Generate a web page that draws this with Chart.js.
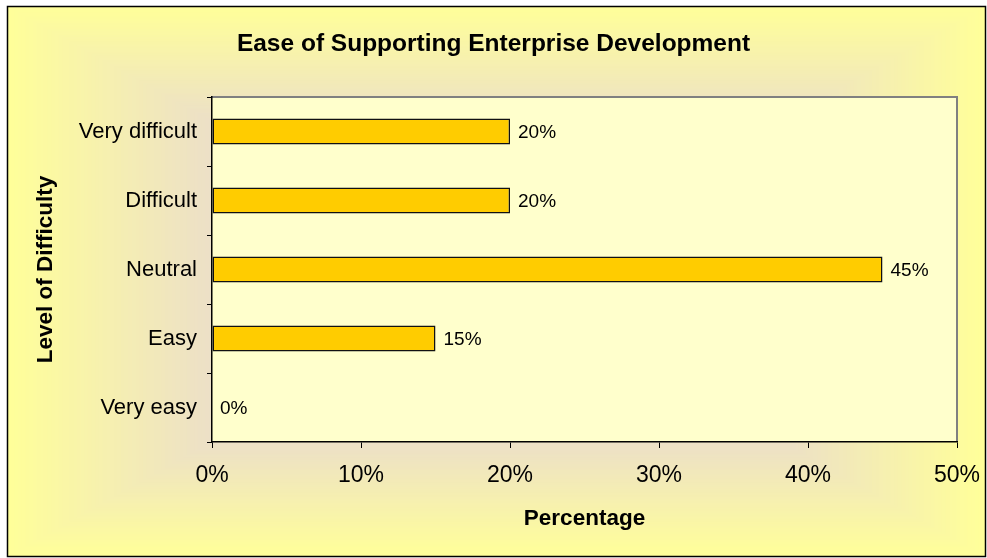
<!DOCTYPE html>
<html>
<head>
<meta charset="utf-8">
<title>Ease of Supporting Enterprise Development</title>
<script src="https://cdn.jsdelivr.net/npm/chart.js@4/dist/chart.umd.min.js"></script>
<style>
  html, body { margin: 0; padding: 0; background: #fff; }
  #wrap { width: 987px; height: 558px; position: relative; }
</style>
</head>
<body>
<div id="wrap"><canvas id="chart"></canvas></div>
<script>
// ---------- data ----------
const levels = ["Very difficult", "Difficult", "Neutral", "Easy", "Very easy"];
const percentages = [20, 20, 45, 15, 0];
const xTicks = [0, 10, 20, 30, 40, 50];

const FONT = "'Liberation Sans', Arial, sans-serif";

// ---------- helpers ----------
function mix(a, b, t) {
  return a.map((v, i) => Math.round(v + (b[i] - v) * t));
}

// rectangular "from centre" fill behind everything, plus the plot panel
const backdrop = {
  id: "backdrop",
  beforeDraw(chart) {
    const { ctx, chartArea: ca } = chart;
    const L = 7, T = 6, R = 986, B = 557;
    const cx = (L + R) / 2, cy = (T + B) / 2;
    const hw = (R - L) / 2, hh = (B - T) / 2;
    const edge = [255, 255, 153], inner = [236, 223, 200];
    ctx.save();
    const steps = 80;
    for (let i = 0; i <= steps; i++) {
      const d = 1 - (i / steps) * 0.6;            // normalized distance 1 -> 0.4
      const t = Math.min(1, (1 - d) / 0.42);
      const c = mix(edge, inner, t);
      ctx.fillStyle = `rgb(${c[0]},${c[1]},${c[2]})`;
      ctx.fillRect(cx - hw * d, cy - hh * d, hw * 2 * d, hh * 2 * d);
    }
    // plot panel
    ctx.fillStyle = "#FFFFCC";
    ctx.fillRect(ca.left, ca.top, ca.right - ca.left, ca.bottom - ca.top);
    ctx.strokeStyle = "#808080";
    ctx.lineWidth = 2;
    ctx.beginPath();
    ctx.moveTo(ca.left, ca.top);
    ctx.lineTo(ca.right, ca.top);
    ctx.lineTo(ca.right, ca.bottom);
    ctx.stroke();
    // outer frame
    ctx.strokeStyle = "#000";
    ctx.lineWidth = 1.5;
    ctx.strokeRect(L + 0.5, T + 0.5, R - L - 1, B - T - 1);
    ctx.restore();
  }
};

// value labels at the end of each bar
const barLabels = {
  id: "barLabels",
  afterDatasetsDraw(chart) {
    const { ctx } = chart;
    const meta = chart.getDatasetMeta(0);
    ctx.save();
    ctx.font = `19px ${FONT}`;
    ctx.fillStyle = "#000";
    ctx.textAlign = "left";
    ctx.textBaseline = "middle";
    meta.data.forEach((bar, i) => {
      const v = chart.data.datasets[0].data[i];
      ctx.fillText(v + "%", bar.x + 8, bar.y + 1);
    });
    ctx.restore();
  }
};

new Chart(document.getElementById("chart"), {
  type: "bar",
  data: {
    labels: levels,
    datasets: [{
      data: percentages,
      backgroundColor: "#FFCC00",
      borderColor: "#111",
      borderWidth: 1.5,
      borderSkipped: false,
      barPercentage: 0.38,
      categoryPercentage: 1
    }]
  },
  options: {
    indexAxis: "y",
    responsive: true,
    maintainAspectRatio: false,
    animation: false,
    layout: { padding: 0 },
    plugins: {
      legend: { display: false },
      tooltip: { enabled: false },
      title: {
        display: true,
        text: "Ease of Supporting Enterprise Development",
        color: "#000",
        font: { family: FONT, size: 24.5, weight: "bold" },
        padding: { top: 30, bottom: 37.6 }
      }
    },
    scales: {
      x: {
        min: 0,
        max: 50,
        afterBuildTicks: (scale) => { scale.ticks = xTicks.map((v) => ({ value: v })); },
        afterFit: (scale) => {
          scale.height = 116;
          scale.paddingRight = 30;
        },
        ticks: {
          color: "#000",
          padding: 14,
          font: { family: FONT, size: 23 },
          callback: (v) => v + "%"
        },
        grid: { drawOnChartArea: false, drawTicks: true, tickLength: 6, color: "#000" },
        border: { display: true, color: "#000", width: 1.5 },
        title: {
          display: true,
          text: "Percentage",
          color: "#000",
          font: { family: FONT, size: 22.5, weight: "bold" },
          padding: { top: 0, bottom: 25.5 }
        }
      },
      y: {
        afterFit: (scale) => { scale.width = 212; },
        ticks: {
          color: "#000",
          padding: 10,
          font: { family: FONT, size: 22 }
        },
        grid: { drawOnChartArea: false, drawTicks: true, tickLength: 5, color: "#000", offset: true },
        border: { display: true, color: "#000", width: 1.5 },
        title: {
          display: true,
          text: "Level of Difficulty",
          color: "#000",
          font: { family: FONT, size: 22.5, weight: "bold" },
          padding: { top: 32, bottom: 0 }
        }
      }
    }
  },
  plugins: [backdrop, barLabels]
});
</script>
</body>
</html>
